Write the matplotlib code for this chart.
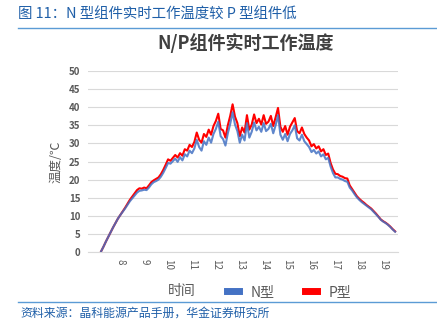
import matplotlib.pyplot as plt
import numpy as np
from matplotlib.lines import Line2D

plt.rcParams['font.family'] = ['Noto Sans CJK SC', 'DejaVu Sans']

# 采样时刻（小时），每 6 分钟一个点
hours = np.round(np.arange(7.2, 19.55, 0.1), 1)

p_temp = [
    0.2, 1.5, 2.9, 4.2, 5.5, 6.8, 8.0, 9.2, 10.2, 11.2,
    12.2, 13.3, 14.4, 15.3, 16.2, 17.1, 17.6, 17.5, 17.8, 17.6,
    18.4, 19.3, 19.8, 20.2, 20.6, 21.5, 22.7, 24.1, 25.6, 25.2,
    26.0, 26.8, 26.1, 27.3, 26.6, 28.4, 28.0, 29.6, 29.0, 30.4,
    33.0, 31.0, 30.2, 32.6, 31.8, 33.8, 32.4, 34.8, 36.2, 38.2,
    34.0, 33.6, 31.6, 35.0, 37.6, 40.8, 37.4, 35.6, 32.0, 34.4,
    33.0, 37.8, 33.8, 35.2, 38.0, 35.6, 36.8, 35.2, 37.8, 35.4,
    36.0, 37.6, 34.8, 37.2, 39.8, 34.6, 33.2, 34.8, 32.4, 34.6,
    35.8, 37.0, 33.4, 32.8, 34.4, 32.6, 31.6, 30.8, 29.2, 29.8,
    28.6, 29.2, 27.8, 28.4, 26.8, 27.2, 24.6, 22.8, 21.6, 21.5,
    21.0, 20.8, 20.4, 20.3, 18.4, 17.4, 16.4, 15.4, 14.7, 14.1,
    13.6, 13.0, 12.5, 12.0, 11.3, 10.6, 9.8, 9.0, 8.5, 8.1,
    7.6, 7.0, 6.3, 5.7,
]

n_temp = [
    0.2, 1.5, 2.9, 4.2, 5.5, 6.8, 8.0, 9.2, 10.2, 11.1,
    12.0, 13.0, 14.0, 14.8, 15.6, 16.4, 16.9, 17.0, 17.2, 17.1,
    17.8, 18.7, 19.3, 19.6, 20.0, 20.8, 21.9, 23.2, 24.6, 24.4,
    25.1, 25.8, 24.9, 26.2, 25.3, 27.0, 26.4, 28.0, 27.3, 28.6,
    31.0, 29.0, 28.0, 30.6, 29.6, 31.6, 30.2, 32.6, 34.0, 36.0,
    32.0, 31.2, 29.4, 32.8, 35.4, 38.6, 35.2, 33.4, 30.2, 32.4,
    30.8, 35.6, 31.6, 33.2, 35.8, 33.6, 34.6, 33.2, 35.6, 33.4,
    34.0, 35.4, 32.8, 35.0, 37.8, 32.4, 31.0, 32.6, 30.6, 32.6,
    33.6, 35.0, 31.4, 30.8, 32.4, 30.6, 29.8, 29.0, 27.6, 28.2,
    27.2, 27.8, 26.4, 27.0, 25.6, 26.0, 23.6, 21.8, 20.6, 20.6,
    20.2, 20.0, 19.6, 19.4, 17.8, 17.0, 16.0, 15.1, 14.4, 13.8,
    13.3, 12.8, 12.3, 11.8, 11.1, 10.4, 9.7, 8.9, 8.4, 8.0,
    7.5, 6.9, 6.2, 5.6,
]

tick_hours = [8, 9, 10, 11, 12, 13, 14, 15, 16, 17, 18, 19]

blue = '#4472C4'
red = '#FF0000'
gray = '#595959'


def main():
    fig = plt.figure(figsize=(4.37, 3.32), dpi=100)
    ax = fig.add_axes([88 / 437, 1 - 252 / 332, 310 / 437, 181 / 332])

    ax.plot(hours, p_temp, color=red, linewidth=1.5, zorder=3)
    ax.plot(hours, n_temp, color=blue, linewidth=1.5, alpha=0.85, zorder=4)

    ax.set_xlim(6.65, 19.62)
    ax.set_ylim(0, 50)
    ax.set_yticks(np.arange(0, 51, 5))
    ax.set_xticks(tick_hours)
    ax.set_xticklabels([str(h) for h in tick_hours], rotation=-90)
    ax.tick_params(axis='both', length=0, labelsize=7, labelcolor=gray)
    ax.tick_params(axis='y', pad=5.5)
    ax.tick_params(axis='x', pad=5)
    for lab in ax.get_yticklabels():
        lab.set_fontweight('bold')
    ax.grid(axis='y', color='#d9d9d9', linewidth=0.8)
    ax.set_axisbelow(True)
    for side in ['top', 'right', 'left']:
        ax.spines[side].set_visible(False)
    ax.spines['bottom'].set_color('#d9d9d9')
    ax.spines['bottom'].set_linewidth(0.8)

    fig.text(56 / 437, 1 - 162 / 332, '温度/℃', rotation=90, fontsize=9,
             color=gray, ha='center', va='center')
    fig.text(182 / 437, 1 - 291 / 332, '时间', fontsize=10, color=gray,
             ha='center', va='center')

    handles = [Line2D([], [], color=blue, linewidth=5),
               Line2D([], [], color=red, linewidth=5)]
    fig.legend(handles, ['N型', 'P型'], loc='center', ncol=2,
               bbox_to_anchor=(289 / 437, 1 - 292 / 332), frameon=False,
               fontsize=10, labelcolor=gray, handlelength=0.9,
               columnspacing=2.2, handletextpad=0.8)

    # 报告页眉、页脚
    fig.text(18 / 437, 1 - 14 / 332, '图 11：N 型组件实时工作温度较 P 型组件低',
             fontsize=10.4, color='#1f5fa8', ha='left', va='center')
    fig.add_artist(Line2D([18 / 437, 1], [1 - 28 / 332, 1 - 28 / 332],
                          color='#5b9bd5', linewidth=1))
    fig.text(246 / 437, 1 - 43 / 332, 'N/P组件实时工作温度', fontsize=13,
             fontweight='bold', color='#404040', ha='center', va='center')
    fig.add_artist(Line2D([18 / 437, 1], [1 - 302 / 332, 1 - 302 / 332],
                          color='#5b9bd5', linewidth=1))
    fig.text(20 / 437, 1 - 313 / 332, '资料来源：晶科能源产品手册，华金证券研究所',
             fontsize=8.6, color='#1f5fa8', style='italic', ha='left', va='center')

    fig.savefig('out.png', dpi=100)


if __name__ == '__main__':
    main()
